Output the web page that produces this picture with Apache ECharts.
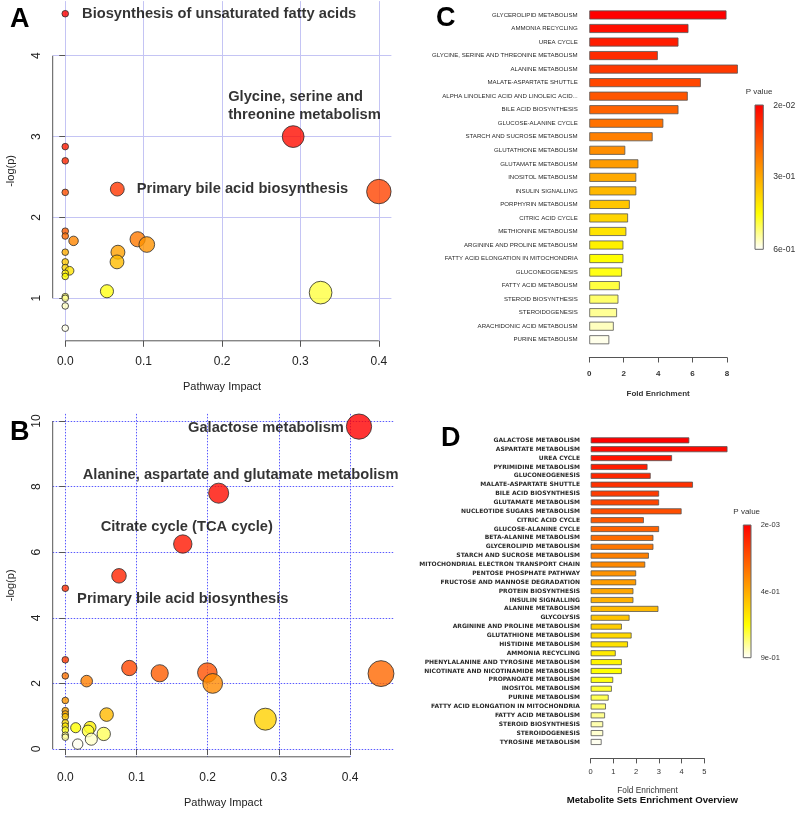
<!DOCTYPE html>
<html><head><meta charset="utf-8">
<script src="https://cdn.jsdelivr.net/npm/echarts@6/dist/echarts.min.js"></script>
<style>html,body{margin:0;padding:0;background:#fff}#c{width:800px;height:815px}</style>
</head><body><div id="c"></div>
<script>
// ---------- Panel A (pathway impact vs -log(p)) ----------
const aImpact = [0, 0.2907, 0, 0, 0.0664, 0.4, 0, 0, 0, 0.0923, 0.0106, 0.104, 0.0672, 0, 0.066, 0, 0, 0.0055, 0, 0, 0.0532, 0.3257, 0, 0, 0, 0];
const aLogP   = [4.52, 3.0, 2.876, 2.70, 2.35, 2.32, 2.31, 1.83, 1.77, 1.73, 1.71, 1.665, 1.57, 1.57, 1.45, 1.45, 1.38, 1.34, 1.31, 1.27, 1.087, 1.07, 1.02, 1.0, 0.905, 0.63];
const aLabelIdx  = [0, 1, 4];
const aLabelText = ['Biosynthesis of unsaturated fatty acids', 'Glycine, serine and\nthreonine metabolism', 'Primary bile acid biosynthesis'];
const aXTicks = [0, 0.1, 0.2, 0.3, 0.4];
const aYTicks = [1, 2, 3, 4];

// ---------- Panel B ----------
const bImpact = [0.4125, 0.2154, 0.165, 0.0754, 0, 0, 0.0899, 0.1995, 0.1326, 0.4434, 0, 0.030, 0.207, 0, 0, 0, 0.058, 0, 0.281, 0, 0, 0.0347, 0.0146, 0, 0.032, 0.054, 0, 0, 0.0365, 0.0174];
const bLogP   = [9.83, 7.80, 6.25, 5.28, 4.90, 2.72, 2.47, 2.33, 2.31, 2.30, 2.23, 2.07, 2.00, 1.48, 1.17, 1.07, 1.05, 0.985, 0.91, 0.80, 0.70, 0.66, 0.65, 0.58, 0.55, 0.46, 0.42, 0.36, 0.30, 0.15];
const bLabelIdx  = [0, 1, 2, 4];
const bLabelText = ['Galactose metabolism', 'Alanine, aspartate and glutamate metabolism', 'Citrate cycle (TCA cycle)', 'Primary bile acid biosynthesis'];
const bXTicks = [0, 0.1, 0.2, 0.3, 0.4];
const bYTicks = [0, 2, 4, 6, 8, 10];

// ---------- Panel C (enrichment overview) ----------
const cSets = ['GLYCEROLIPID METABOLISM','AMMONIA RECYCLING','UREA CYCLE','GLYCINE, SERINE AND THREONINE METABOLISM','ALANINE METABOLISM','MALATE-ASPARTATE SHUTTLE','ALPHA LINOLENIC ACID AND LINOLEIC ACID...','BILE ACID BIOSYNTHESIS','GLUCOSE-ALANINE CYCLE','STARCH AND SUCROSE METABOLISM','GLUTATHIONE METABOLISM','GLUTAMATE METABOLISM','INOSITOL METABOLISM','INSULIN SIGNALLING','PORPHYRIN METABOLISM','CITRIC ACID CYCLE','METHIONINE METABOLISM','ARGININE AND PROLINE METABOLISM','FATTY ACID ELONGATION IN MITOCHONDRIA','GLUCONEOGENESIS','FATTY ACID METABOLISM','STEROID BIOSYNTHESIS','STEROIDOGENESIS','ARACHIDONIC ACID METABOLISM','PURINE METABOLISM'];
const cFold = [7.97, 5.76, 5.18, 3.98, 8.63, 6.48, 5.72, 5.18, 4.30, 3.68, 2.09, 2.85, 2.73, 2.73, 2.35, 2.25, 2.15, 1.98, 1.98, 1.90, 1.77, 1.69, 1.61, 1.42, 1.16];
const cPLegend = ['2e-02', '3e-01', '6e-01'];

// ---------- Panel D ----------
const dSets = ['GALACTOSE METABOLISM','ASPARTATE METABOLISM','UREA CYCLE','PYRIMIDINE METABOLISM','GLUCONEOGENESIS','MALATE-ASPARTATE SHUTTLE','BILE ACID BIOSYNTHESIS','GLUTAMATE METABOLISM','NUCLEOTIDE SUGARS METABOLISM','CITRIC ACID CYCLE','GLUCOSE-ALANINE CYCLE','BETA-ALANINE METABOLISM','GLYCEROLIPID METABOLISM','STARCH AND SUCROSE METABOLISM','MITOCHONDRIAL ELECTRON TRANSPORT CHAIN','PENTOSE PHOSPHATE PATHWAY','FRUCTOSE AND MANNOSE DEGRADATION','PROTEIN BIOSYNTHESIS','INSULIN SIGNALLING','ALANINE METABOLISM','GLYCOLYSIS','ARGININE AND PROLINE METABOLISM','GLUTATHIONE METABOLISM','HISTIDINE METABOLISM','AMMONIA RECYCLING','PHENYLALANINE AND TYROSINE METABOLISM','NICOTINATE AND NICOTINAMIDE METABOLISM','PROPANOATE METABOLISM','INOSITOL METABOLISM','PURINE METABOLISM','FATTY ACID ELONGATION IN MITOCHONDRIA','FATTY ACID METABOLISM','STEROID BIOSYNTHESIS','STEROIDOGENESIS','TYROSINE METABOLISM'];
const dFold = [4.34, 6.02, 3.58, 2.50, 2.64, 4.50, 3.01, 3.01, 4.00, 2.34, 3.01, 2.76, 2.76, 2.56, 2.40, 2.00, 2.00, 1.88, 1.88, 2.98, 1.71, 1.37, 1.80, 1.64, 1.10, 1.37, 1.37, 0.99, 0.93, 0.79, 0.67, 0.63, 0.55, 0.55, 0.48];
const dPLegend = ['2e-03', '4e-01', '9e-01'];

// ---------- helpers ----------
const FF = "'Liberation Sans', Arial, sans-serif";
function hsv(h, s, v) {
  const r = v, g = v * (1 - s + s * h / 60), b = v * (1 - s);
  const t = x => Math.round(x * 255).toString(16).padStart(2, '0');
  return '#' + t(r) + t(g) + t(b);
}
// R's heat.colors(n)
function heatColors(n) {
  const j = Math.floor(n / 4), i = n - j, out = [];
  for (let k = 0; k < i; k++) out.push(hsv(i > 1 ? 60 * k / (i - 1) : 0, 1, 1));
  const s0 = 1 - 1 / (2 * j), s1 = 1 / (2 * j);
  for (let k = 0; k < j; k++) out.push(hsv(60, j > 1 ? s0 + (s1 - s0) * k / (j - 1) : 0.5, 1));
  return out;
}
function rankColors(ys) {
  const order = ys.map((y, i) => i).sort((p, q) => ys[q] - ys[p]);
  const pal = heatColors(ys.length), col = [];
  order.forEach((idx, r) => { col[idx] = pal[r]; });
  return col;
}

const labelFont = { fontFamily: FF, fontWeight: 'bold', fontSize: 14.7, color: '#000' };
const aPlace = [
  { position: 'right', distance: 13 },
  { position: 'top', distance: 2, align: 'left', offset: [-65, 0], lineHeight: 17.3 },
  { position: 'right', distance: 12 }
];
const bPlace = [
  { position: 'left', distance: 2, offset: [0, 1.5] },
  { position: 'top', distance: 0, offset: [22, 0] },
  { position: 'top', distance: 0, offset: [4, 0] },
  { position: 'right', distance: 8, offset: [0, 11] }
];

function scatterData(xs, ys, k, labIdx, labText, place) {
  const cols = rankColors(ys);
  return xs.map((x, i) => {
    const item = {
      value: [x, ys[i]],
      symbolSize: 2 * (3.3 + k * Math.sqrt(x)),
      itemStyle: { color: cols[i], borderColor: '#2a2a2a', borderWidth: 1 }
    };
    const li = labIdx.indexOf(i);
    if (li >= 0) item.label = Object.assign({ show: true, formatter: labText[li] }, labelFont, place[li]);
    return item;
  });
}

function scatterAxes(gi, xr, yr, xt, yt, grid) {
  const tickStyle = { color: '#555', width: 1 };
  return [{
    gridIndex: gi, type: 'value', min: xr[0], max: xr[1],
    axisLine: { show: false },
    axisTick: { show: true, customValues: xt, length: 6, lineStyle: tickStyle },
    axisLabel: { customValues: xt, formatter: v => v.toFixed(1), fontSize: 12, color: '#222', margin: 15, fontFamily: FF },
    splitLine: { show: true, lineStyle: grid },
    name: 'Pathway Impact', nameLocation: 'middle', nameGap: 41,
    nameTextStyle: { fontSize: 11, color: '#222', fontFamily: FF }
  }, {
    gridIndex: gi, type: 'value', min: yr[0], max: yr[1],
    axisLine: { show: false },
    axisTick: { show: true, customValues: yt, length: 6, lineStyle: tickStyle },
    axisLabel: { customValues: yt, rotate: 90, fontSize: 12, color: '#222', margin: 10, fontFamily: FF },
    splitLine: { show: true, lineStyle: grid },
    name: '-log(p)', nameLocation: 'middle', nameGap: 36, nameRotate: 90,
    nameTextStyle: { fontSize: 11, color: '#222', fontFamily: FF }
  }];
}
function axisLines(gi, xr, yr, xt, yt) {
  const st = { type: 'line', xAxisIndex: gi, yAxisIndex: gi, symbol: 'none', silent: true, clip: false,
    lineStyle: { color: '#555', width: 1 }, z: 5 };
  return [
    Object.assign({ data: [[xt[0], yr[0]], [xt[xt.length - 1], yr[0]]] }, st),
    Object.assign({ data: [[xr[0], yt[0]], [xr[0], yt[yt.length - 1]]] }, st)
  ];
}

const aXR = [-0.016, 0.416], aYR = [0.474, 4.676];
const bXR = [-0.0177, 0.4611], bYR = [-0.237, 10.217];
const aGridLine = { color: '#c4c4f4', width: 1, type: 'solid' };
const bGridLine = { color: '#5a5aff', width: 1, type: [1.5, 1.5] };
const [axA, ayA] = scatterAxes(0, aXR, aYR, aXTicks, aYTicks, aGridLine);
const [axB, ayB] = scatterAxes(1, bXR, bYR, bXTicks, bYTicks, bGridLine);

function barAxes(gi, cats, max, interval, offset, lab) {
  return [{
    gridIndex: gi, type: 'value', min: 0, max: max, interval: interval, offset: offset,
    axisLine: { show: true, lineStyle: { color: '#555', width: 1 } },
    axisTick: { show: true, length: 5, lineStyle: { color: '#555' } },
    axisLabel: { fontSize: lab.tickSize, fontWeight: lab.tickWeight, color: '#333', margin: lab.tickMargin, fontFamily: FF },
    splitLine: { show: false },
    name: 'Fold Enrichment', nameLocation: 'middle', nameGap: lab.nameGap,
    nameTextStyle: { fontSize: lab.nameSize, fontWeight: lab.nameWeight, color: '#333', fontFamily: FF }
  }, {
    gridIndex: gi, type: 'category', inverse: true, data: cats,
    axisLine: { show: false }, axisTick: { show: false },
    axisLabel: { interval: 0, fontSize: lab.catSize, fontFamily: lab.catFamily, fontWeight: lab.catWeight, color: '#2a2a2a', margin: lab.catMargin }
  }];
}
const [axC, ayC] = barAxes(2, cSets, 8, 2, 11, { tickSize: 8, tickWeight: 'bold', tickMargin: 12, nameGap: 32, nameSize: 8, nameWeight: 'bold', catSize: 6.1, catFamily: FF, catWeight: 'normal', catMargin: 11.6 });
const [axD, ayD] = barAxes(3, dSets, 5, 1, 12, { tickSize: 7.5, tickWeight: 'normal', tickMargin: 10, nameGap: 28, nameSize: 8.3, nameWeight: 'normal', catSize: 6, catFamily: "'DejaVu Sans', sans-serif", catWeight: 'bold', catMargin: 10.7 });

function barData(vals) {
  const pal = heatColors(vals.length);
  return vals.map((v, i) => ({ value: v, itemStyle: { color: pal[i] } }));
}

function legend(x, y, w, h, title, labels, labelYs, labX, titleX, titleY, fs) {
  const grad = new echarts.graphic.LinearGradient(0, 0, 0, 1, [
    { offset: 0, color: '#ff0000' }, { offset: 0.75, color: '#ffff00' }, { offset: 1, color: '#ffffff' }
  ]);
  const els = [{ type: 'rect', shape: { x: x, y: y, width: w, height: h }, style: { fill: grad, stroke: '#666', lineWidth: 1 } },
    { type: 'text', x: titleX, y: titleY, style: { text: title, font: '8px ' + FF, fill: '#333', align: 'center', verticalAlign: 'middle', textAlign: 'center', textVerticalAlign: 'middle' } }];
  labels.forEach((t, i) => els.push({ type: 'text', x: labX, y: labelYs[i],
    style: { text: t, font: fs + 'px ' + FF, fill: '#333', align: 'left', verticalAlign: 'middle', textAlign: 'left', textVerticalAlign: 'middle' } }));
  return els;
}
function letter(t, x, y) {
  return { type: 'text', x: x, y: y, style: { text: t, font: 'bold 27px ' + FF, fill: '#000', align: 'left', verticalAlign: 'middle', textAlign: 'left', textVerticalAlign: 'middle' } };
}

const option = {
  animation: false,
  backgroundColor: '#fff',
  grid: [
    { left: 52.7, top: 1.1, width: 338.7, height: 339.7 },
    { left: 52.7, top: 413.9, width: 340.9, height: 342.9 },
    { left: 589.3, top: 8.2, width: 137.7, height: 338.3 },
    { left: 590.7, top: 435.9, width: 113.6, height: 310.5 }
  ],
  xAxis: [axA, axB, axC, axD],
  yAxis: [ayA, ayB, ayC, ayD],
  series: [
    ...axisLines(0, aXR, aYR, aXTicks, aYTicks),
    ...axisLines(1, bXR, bYR, bXTicks, bYTicks),
    { type: 'scatter', xAxisIndex: 0, yAxisIndex: 0, clip: false, z: 10,
      data: scatterData(aImpact, aLogP, 14.1, aLabelIdx, aLabelText, aPlace) },
    { type: 'scatter', xAxisIndex: 1, yAxisIndex: 1, clip: false, z: 10,
      data: scatterData(bImpact, bLogP, 14.5, bLabelIdx, bLabelText, bPlace) },
    { type: 'bar', xAxisIndex: 2, yAxisIndex: 2, barWidth: 9, clip: false,
      itemStyle: { borderColor: '#555', borderWidth: 0.8 }, data: barData(cFold) },
    { type: 'bar', xAxisIndex: 3, yAxisIndex: 3, barWidth: 6, clip: false,
      itemStyle: { borderColor: '#555', borderWidth: 0.8 }, data: barData(dFold) }
  ],
  graphic: [
    letter('A', 10, 19.5), letter('B', 10, 433), letter('C', 436, 19), letter('D', 441, 438.5),
    ...legend(755, 105, 8.3, 144.3, 'P value', cPLegend, [105.3, 177, 249.3], 773.3, 759, 91.3, 8.6),
    ...legend(743.3, 525, 7.7, 132.7, 'P value', dPLegend, [525.3, 591.7, 657.7], 760.7, 746.7, 511.3, 7.5),
    { type: 'text', x: 652.3, y: 800, style: { text: 'Metabolite Sets Enrichment Overview', font: 'bold 9.6px ' + FF, fill: '#111', align: 'center', verticalAlign: 'middle', textAlign: 'center', textVerticalAlign: 'middle' } }
  ]
};
const chart = echarts.init(document.getElementById('c'));
chart.setOption(option);
</script>
</body></html>
